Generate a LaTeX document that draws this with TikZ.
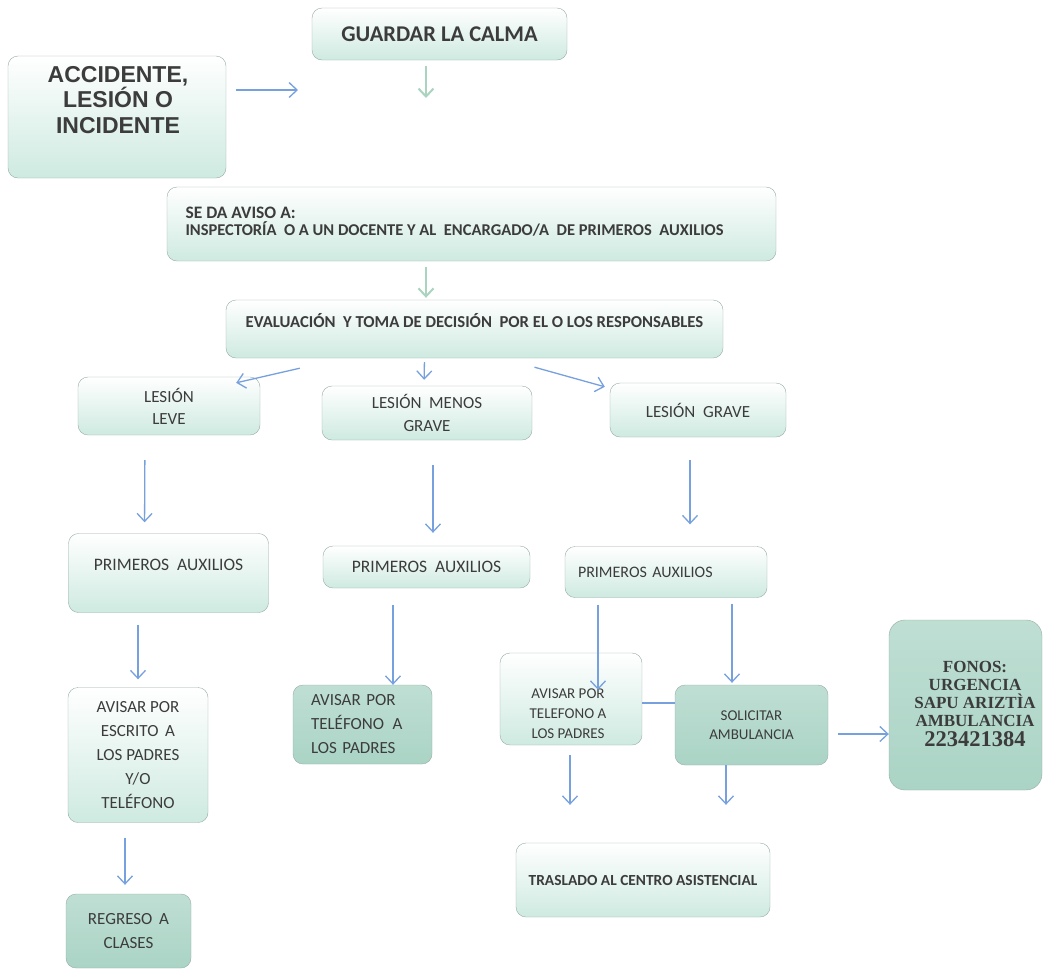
\documentclass[tikz,border=0pt]{standalone}
\usepackage{fontspec}
\setmainfont{Carlito}
\newfontfamily\arialf{Liberation Sans}
\newfontfamily\timesf{Liberation Serif}
\usetikzlibrary{arrows.meta,positioning}

\definecolor{mintL}{RGB}{206,234,224}
\definecolor{mintD}{RGB}{170,212,197}
\definecolor{bordeG}{RGB}{150,172,162}
\definecolor{azulF}{RGB}{118,160,222}
\definecolor{verdeF}{RGB}{170,212,192}
\definecolor{textoG}{RGB}{60,60,60}

\tikzset{
  caja/.style={draw=bordeG, rounded corners=10pt, top color=white, bottom color=mintL,
    text=textoG, align=center, inner sep=0pt},
  cajaD/.style={caja, top color=mintD!75!white, bottom color=mintD},
  flecha/.style={color=azulF, line width=1.3pt, -{Straight Barb[length=8pt,width=15pt]}},
  flechaV/.style={flecha, color=verdeF, line width=2pt},
  linea/.style={color=azulF, line width=1.3pt},
}

\begin{document}
\begin{tikzpicture}[x=1pt, y=-1pt, font=\fontsize{17}{24}\selectfont]
  \useasboundingbox (0,0) rectangle (1044,970);

  \node[caja, minimum width=255pt, minimum height=52pt, font=\bfseries\fontsize{22.5}{24}\selectfont] (calma) at (439.5,34) {GUARDAR LA CALMA};
  \node[caja, minimum width=218pt, minimum height=122pt] (acc) at (117,117) {};
  \node[align=center, text=textoG, font=\arialf\bfseries\fontsize{23}{25.5}\selectfont] (accT) at (118,100) {ACCIDENTE,\\LESIÓN O\\INCIDENTE};

  \node[caja, minimum width=609pt, minimum height=74pt] (aviso) at (471.5,224) {};
  \node[anchor=west, align=left, text=textoG, font=\bfseries\fontsize{16.5}{17}\selectfont] (avisoT) at (182,222)
    {{\fontsize{17.5}{17}\selectfont SE DA AVISO A:}\\INSPECTORÍA~~O A UN DOCENTE Y AL~~ENCARGADO/A~~DE PRIMEROS~~AUXILIOS};

  \node[caja, minimum width=497pt, minimum height=58pt, text depth=17pt, font=\bfseries\fontsize{16.7}{18}\selectfont] (eval) at (474.5,329) {EVALUACIÓN~~Y TOMA DE DECISIÓN~~POR EL O LOS RESPONSABLES};

  \node[caja, minimum width=182pt, minimum height=58pt, font=\fontsize{17}{22}\selectfont] (leve) at (169,406) {LESIÓN\\LEVE};
  \node[caja, minimum width=210pt, minimum height=54pt, font=\fontsize{17}{23}\selectfont] (menos) at (427,413) {LESIÓN~~MENOS\\GRAVE};
  \node[caja, minimum width=176pt, minimum height=54pt] (grave) at (698,410) {LESIÓN~~GRAVE};

  \node[caja, minimum width=200pt, minimum height=79pt, text depth=16pt, font=\fontsize{17.5}{24}\selectfont] (prim1) at (168.5,573) {PRIMEROS~~AUXILIOS};
  \node[caja, minimum width=207pt, minimum height=42pt, font=\fontsize{17.5}{24}\selectfont] (prim2) at (426.5,567) {PRIMEROS~~AUXILIOS};
  \node[caja, minimum width=202pt, minimum height=51pt, align=left, text width=176pt, inner xsep=13pt, font=\fontsize{16}{20}\selectfont] (prim3) at (666,572) {PRIMEROS AUXILIOS};

  \node[caja, minimum width=140pt, minimum height=135pt] (escr) at (138,755) {AVISAR POR\\ESCRITO\ \,A\\LOS PADRES\\Y/O\\TELÉFONO};
  \node[cajaD, minimum height=79pt, align=left, text width=103pt, inner xsep=18pt] (tel2) at (362.5,724.5) {AVISAR POR\\TELÉFONO\ \,A\\LOS PADRES};
  \node[caja, minimum width=142pt, minimum height=92pt] (tel3) at (571,699) {};
  \node[align=center, text=textoG, font=\fontsize{15}{20}\selectfont] (tel3T) at (568,714) {AVISAR POR\\TELEFONO A\\LOS PADRES};
  \node[cajaD, minimum width=153pt, minimum height=80pt, font=\fontsize{15}{19}\selectfont] (solic) at (751.5,725) {SOLICITAR\\AMBULANCIA};
  \node[cajaD, minimum width=153pt, minimum height=170pt, rounded corners=16pt] (fonos) at (965.5,705) {};
  \node[align=center, text=textoG, font=\timesf\bfseries\fontsize{17}{18}\selectfont] (fonosT) at (975,704)
    {FONOS:\\URGENCIA\\SAPU ARIZTÌA\\AMBULANCIA\\[2pt]{\fontsize{22.5}{24}\selectfont 223421384}};

  \node[caja, minimum width=254pt, minimum height=74pt, font=\bfseries\fontsize{15.4}{18}\selectfont] (trasl) at (643,880) {TRASLADO AL CENTRO ASISTENCIAL};
  \node[cajaD, minimum width=125pt, minimum height=74pt] (regreso) at (128.5,931) {REGRESO\ \,A\\CLASES};

  \coordinate (accF) at (298,90);
  \coordinate (calmaF) at (426,98);
  \coordinate (telM) at ([yshift=-4pt]tel3.east);
  \coordinate (solM) at ([yshift=-9pt]solic.east);

  \draw[flecha, shorten <=10pt] (acc.east |- accF) -- (accF);
  \draw[flechaV, shorten <=6pt] (calma.south -| calmaF) -- (calmaF);
  \draw[flechaV, shorten <=6pt, shorten >=2pt] (aviso.south -| calmaF) -- (eval.north -| calmaF);

  \draw[flecha] ([xshift=74pt,yshift=-10pt]eval.south west) -- ([xshift=-24pt,yshift=-6pt]leve.north east);
  \draw[flecha, shorten <=4pt, shorten >=6pt] ([xshift=-50pt]eval.south) -- ([xshift=-3pt]menos.north);
  \draw[flecha] ([xshift=60pt,yshift=-9pt]eval.south) -- ([xshift=-5pt,yshift=-4pt]grave.north west);

  \draw[flecha, shorten <=25pt, shorten >=11pt] ([xshift=-24pt]leve.south) -- ([xshift=-24pt]prim1.north);
  \draw[flecha, shorten <=25pt, shorten >=13pt] ([xshift=6pt]menos.south) -- ([xshift=6.5pt]prim2.north);
  \draw[flecha, shorten <=23pt, shorten >=22pt] ([xshift=-8pt]grave.south) -- ([xshift=24pt]prim3.north);

  \draw[flecha, shorten <=12pt, shorten >=8pt] ([xshift=-30.5pt]prim1.south) -- (escr.north);
  \draw[flecha, shorten <=17pt] ([xshift=-33.5pt]prim2.south) -- ([xshift=30.5pt]tel2.north);
  \draw[flecha, shorten <=7pt] ([xshift=-68pt]prim3.south) -- ([xshift=27pt,yshift=-37pt]tel3.north);
  \draw[flecha, shorten <=6pt, shorten >=2pt] ([xshift=66pt]prim3.south) -- ([xshift=-19.5pt]solic.north);

  \draw[linea] (telM) -- (telM -| solic.west);
  \draw[flecha, shorten <=10pt] (solM) -- (solM -| fonos.west);

  \draw[flecha, shorten <=10pt, shorten >=38pt] ([xshift=-1pt]tel3.south) -- ([xshift=-73pt]trasl.north);
  \draw[flecha, shorten >=38pt] ([xshift=-25.5pt]solic.south) -- ([xshift=83pt]trasl.north);
  \draw[flecha, shorten <=15pt, shorten >=9pt] ([xshift=-13pt]escr.south) -- ([xshift=-3.5pt]regreso.north);
\end{tikzpicture}
\end{document}
